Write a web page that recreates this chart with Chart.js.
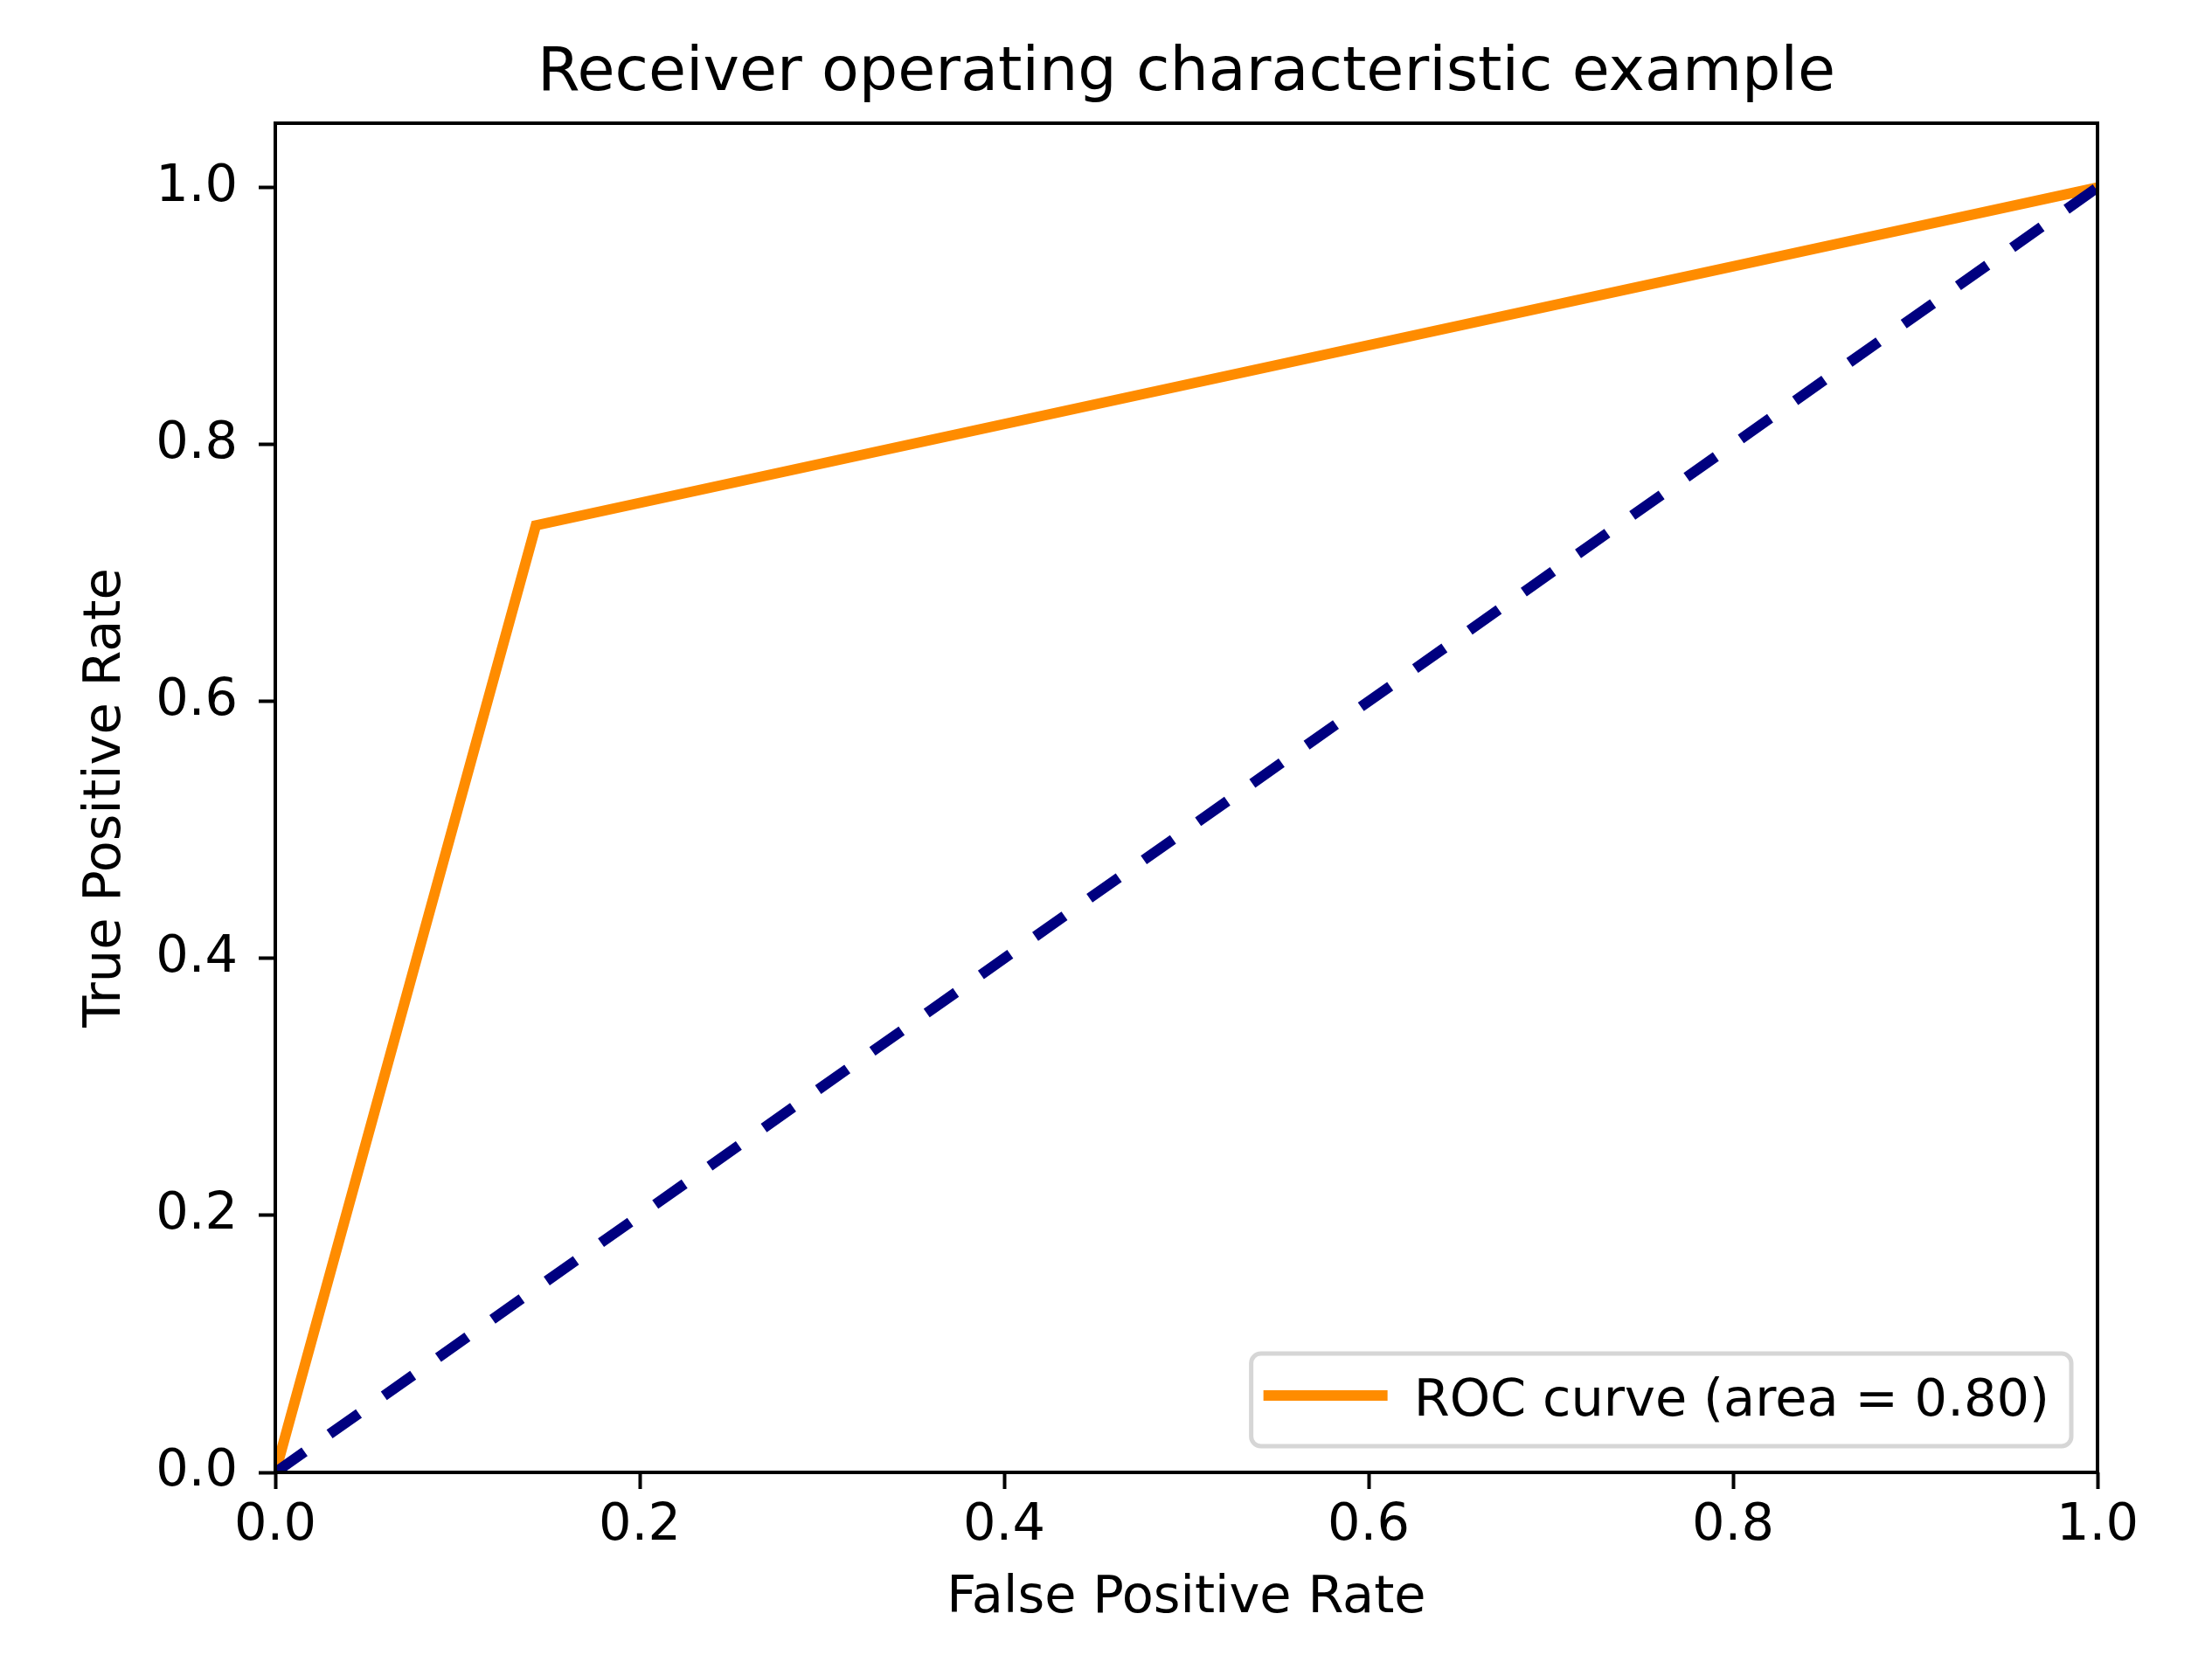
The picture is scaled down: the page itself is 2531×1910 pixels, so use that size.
<!DOCTYPE html>
<html>
<head>
<meta charset="utf-8">
<script src="https://cdn.jsdelivr.net/npm/chart.js@4.4.1/dist/chart.umd.min.js"></script>
<style>
  html, body { margin: 0; padding: 0; background: #fff; }
  #wrap { width: 2531px; height: 1910px; }
</style>
</head>
<body>
<div id="wrap"><canvas id="roc"></canvas></div>
<script>
// ROC data
const fpr = [0.0, 0.143, 1.0];
const tpr = [0.0, 0.737, 1.0];
const chanceX = [0.0, 1.0];
const chanceY = [0.0, 1.0];
const rocLabel = 'ROC curve (area = 0.80)';

// Axis ticks
const tickValues = [0.0, 0.2, 0.4, 0.6, 0.8, 1.0];
const tickLabels = ['0.0', '0.2', '0.4', '0.6', '0.8', '1.0'];

const FONT = "'DejaVu Sans', sans-serif";

// Draws the top/right frame and a matplotlib-style legend inside the plot
const framePlugin = {
    id: 'frameAndLegend',
    afterDatasetsDraw(chart) {
        const { ctx, chartArea: a } = chart;
        ctx.save();
        ctx.strokeStyle = '#000';
        ctx.lineWidth = 4;
        ctx.strokeRect(a.left, a.top, a.right - a.left, a.bottom - a.top);

        // legend
        const ds = chart.data.datasets[0];
        ctx.font = '59px ' + FONT;
        const textW = ctx.measureText(ds.label).width;
        const w = 20 + 130 + 36 + textW + 25;
        const h = 106;
        const x = a.right - 30 - w;
        const y = a.bottom - 30 - h;
        ctx.beginPath();
        ctx.roundRect(x, y, w, h, 11);
        ctx.fillStyle = 'rgba(255,255,255,0.8)';
        ctx.fill();
        ctx.strokeStyle = '#d6d6d6';
        ctx.lineWidth = 5;
        ctx.stroke();

        ctx.beginPath();
        ctx.moveTo(x + 20, y + 48);
        ctx.lineTo(x + 150, y + 48);
        ctx.strokeStyle = ds.borderColor;
        ctx.lineWidth = ds.borderWidth;
        ctx.lineCap = 'square';
        ctx.stroke();

        ctx.fillStyle = '#000';
        ctx.textBaseline = 'alphabetic';
        ctx.textAlign = 'left';
        ctx.fillText(ds.label, x + 186, y + 71);
        ctx.restore();
    }
};

function axis(min, max, fitFn, title, titlePadding, tickPad) {
    return {
        type: 'linear',
        min: min,
        max: max,
        afterBuildTicks(scale) {
            scale.ticks = tickValues.map(v => ({ value: v }));
        },
        afterFit: fitFn,
        border: { display: false },
        grid: {
            drawOnChartArea: false,
            drawTicks: true,
            tickLength: 19,
            tickWidth: 4,
            tickColor: '#000'
        },
        ticks: {
            color: '#000',
            padding: tickPad,
            font: { family: FONT, size: 59 },
            callback: (v, i) => tickLabels[i]
        },
        title: {
            display: true,
            text: title,
            color: '#000',
            padding: titlePadding,
            font: { family: FONT, size: 59 }
        }
    };
}

new Chart(document.getElementById('roc'), {
    type: 'scatter',
    data: {
        datasets: [{
            label: rocLabel,
            data: fpr.map((v, i) => ({ x: v, y: tpr[i] })),
            showLine: true,
            borderColor: '#ff8c00',
            borderWidth: 12,
            pointRadius: 0,
            tension: 0,
            order: 1
        }, {
            label: 'chance',
            data: chanceX.map((v, i) => ({ x: v, y: chanceY[i] })),
            showLine: true,
            borderColor: '#000080',
            borderWidth: 12,
            borderDash: [41, 35],
            pointRadius: 0,
            tension: 0,
            order: 0
        }]
    },
    options: {
        responsive: true,
        maintainAspectRatio: false,
        devicePixelRatio: 1,
        animation: false,
        layout: { padding: { left: 0, right: 131, top: 0, bottom: 0 } },
        plugins: {
            legend: { display: false },
            tooltip: { enabled: false },
            title: {
                display: true,
                fullSize: false,
                text: 'Receiver operating characteristic example',
                color: '#000',
                padding: { top: 43, bottom: 14 },
                font: { family: FONT, size: 70, weight: 'normal' }
            }
        },
        scales: {
            x: axis(0, 1.0, s => { s.height = 225; }, 'False Positive Rate', { top: 0, bottom: 45 }, 7),
            y: axis(0, 1.05, s => { s.width = 315; }, 'True Positive Rate', { top: 86, bottom: 0 }, 24)
        }
    },
    plugins: [framePlugin]
});
</script>
</body>
</html>
